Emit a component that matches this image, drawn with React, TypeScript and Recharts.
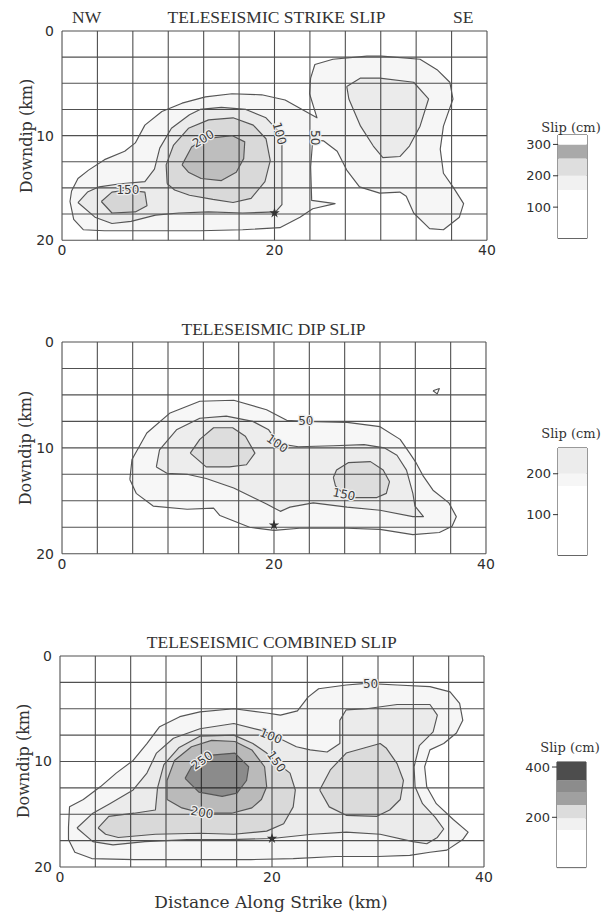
import React from 'react';
import {
  ScatterChart,
  Scatter,
  XAxis,
  YAxis,
  CartesianGrid,
  BarChart,
  Bar,
  ReferenceArea,
  Symbols,
} from 'recharts';

type Pt = [number, number];

// Fault-plane grid (km): 12 columns along strike, 8 rows downdip
const gridX = [0, 3.333, 6.667, 10, 13.333, 16.667, 20, 23.333, 26.667, 30, 33.333, 36.667, 40];
const gridY = [0, 2.5, 5, 7.5, 10, 12.5, 15, 17.5, 20];
const xTickLabels = [0, 20, 40];
const yTickLabels = [0, 10, 20];

// ---- Teleseismic strike slip contours (x along strike km, y downdip km)
const strike50: Pt[] = [
  [0.75, 16.3], [0.9, 15.3], [1.5, 14.1], [2.5, 13.3], [4.0, 12.3], [5.9, 11.5], [6.9, 10.7],
  [7.8, 9.0], [9.4, 7.7], [11.3, 6.9], [13.5, 6.3], [16.0, 6.0], [18.8, 6.1], [21.0, 6.6],
  [22.6, 7.5], [24.0, 8.3], [23.3, 6.0], [23.4, 4.5], [23.8, 3.2], [25.5, 2.7], [28.7, 2.4],
  [30.1, 2.4], [33.7, 2.7], [35.3, 3.7], [36.5, 4.9], [36.8, 6.5], [35.9, 9.1], [35.6, 11.3],
  [35.9, 13.6], [36.8, 14.9], [37.8, 16.5], [37.4, 17.8], [35.9, 19.0], [34.6, 18.9],
  [33.1, 17.4], [32.4, 15.8], [31.8, 15.4], [29.9, 15.5], [28.0, 14.9], [26.8, 13.3],
  [25.9, 11.5], [24.6, 10.5], [23.6, 10.4], [23.4, 13.0], [23.5, 16.2], [25.7, 16.5],
  [23.6, 17.0], [22.4, 17.8], [20.5, 18.8], [17.0, 19.0], [13.0, 19.1], [8.0, 19.1],
  [4.0, 19.1], [2.0, 19.0], [1.1, 18.0], [0.75, 16.3],
];
const strike100: Pt[] = [
  [1.5, 16.4], [2.4, 15.4], [3.5, 14.9], [5.5, 14.6], [7.8, 14.4], [8.7, 13.2], [9.2, 11.2],
  [10.3, 9.3], [12.0, 8.0], [13.0, 7.5], [15.0, 7.3], [17.3, 7.5], [19.2, 8.3], [20.3, 9.5],
  [20.7, 10.8], [20.7, 16.6], [20.1, 17.3], [17.0, 17.4], [13.8, 17.3], [11.0, 17.4],
  [8.8, 17.6], [6.5, 18.2], [4.7, 18.4], [3.1, 17.8], [1.5, 16.4],
];
const strike100East: Pt[] = [
  [26.8, 5.3], [28.1, 4.5], [29.9, 4.5], [33.1, 4.9], [34.5, 6.5], [33.7, 9.1], [32.7, 11.0],
  [31.8, 12.0], [30.2, 12.1], [29.3, 11.0], [28.1, 9.1], [27.0, 6.5], [26.8, 5.3],
];
const strike150West: Pt[] = [
  [3.7, 16.3], [4.7, 15.4], [6.1, 15.2], [7.8, 15.4], [8.0, 16.7], [6.9, 17.3], [4.7, 17.4], [3.7, 16.3],
];
const strike150: Pt[] = [
  [9.9, 14.6], [9.8, 12.8], [10.5, 10.9], [11.9, 9.3], [13.8, 8.5], [16.1, 8.3], [18.0, 9.0],
  [19.2, 10.3], [19.6, 12.4], [19.1, 14.4], [17.8, 16.0], [16.1, 16.4], [14.2, 16.1],
  [12.0, 15.7], [10.6, 15.2], [9.9, 14.6],
];
const strike200: Pt[] = [
  [11.3, 12.8], [12.2, 11.1], [13.5, 10.3], [16.0, 10.0], [17.2, 10.6], [17.1, 12.2],
  [16.4, 13.5], [15.0, 14.3], [13.1, 14.1], [11.9, 13.5], [11.3, 12.8],
];

// ---- Teleseismic dip slip contours
const dip50: Pt[] = [
  [6.4, 13.0], [6.6, 11.1], [8.0, 8.6], [10.2, 6.7], [13.0, 5.6], [16.2, 5.5], [19.3, 6.4],
  [21.2, 7.4], [22.9, 7.5], [26.9, 7.6], [30.0, 8.0], [31.9, 9.2], [32.8, 10.5], [33.4, 11.4],
  [34.1, 12.7], [35.0, 14.0], [36.5, 15.2], [37.2, 16.5], [36.8, 17.4], [35.6, 18.0],
  [33.1, 18.2], [30.0, 17.7], [26.9, 17.6], [22.4, 17.6], [20.0, 17.8], [17.7, 17.5],
  [14.9, 16.4], [14.3, 15.7], [11.8, 15.8], [8.6, 15.5], [7.0, 14.3], [6.4, 13.0],
];
const dip50Spot: Pt[] = [[35.0, 4.6], [35.6, 4.4], [35.4, 4.9], [35.0, 4.6]];
const dip100: Pt[] = [
  [8.9, 11.8], [9.2, 10.2], [10.8, 8.3], [13.0, 7.2], [15.5, 7.0], [18.0, 7.5], [19.5, 8.3],
  [20.4, 9.6], [22.3, 9.9], [25.6, 9.8], [28.5, 9.7], [30.4, 10.0], [31.6, 10.7], [32.5, 12.1],
  [33.1, 14.3], [33.3, 15.5], [34.1, 16.5], [33.1, 16.5], [30.0, 15.9], [26.9, 15.6],
  [23.7, 15.2], [21.5, 15.6], [20.6, 16.0], [19.3, 15.3], [16.2, 13.8], [13.6, 12.9],
  [11.8, 12.5], [9.9, 12.4], [8.9, 11.8],
];
const dip150West: Pt[] = [
  [12.1, 10.5], [13.0, 9.2], [14.3, 8.1], [16.1, 8.1], [17.3, 8.9], [18.2, 10.5], [17.4, 11.6],
  [15.8, 11.8], [13.6, 11.8], [12.1, 10.5],
];
const dip150East: Pt[] = [
  [25.6, 12.8], [25.9, 12.1], [27.0, 11.4], [29.1, 11.3], [30.3, 12.1], [30.9, 13.2],
  [30.6, 14.3], [29.7, 14.7], [27.5, 14.7], [26.6, 14.4], [25.8, 13.6], [25.6, 12.8],
];

// ---- Teleseismic combined slip contours
const comb50: Pt[] = [
  [0.8, 16.2], [0.9, 14.3], [2.2, 13.6], [3.8, 12.4], [5.3, 11.1], [6.9, 9.9], [8.2, 8.3],
  [9.4, 6.7], [11.3, 5.75], [13.2, 5.3], [16.4, 5.0], [19.5, 5.4], [20.8, 5.6], [22.4, 5.2],
  [23.4, 3.9], [24.4, 3.1], [27.0, 2.75], [28.9, 2.6], [31.8, 2.75], [34.9, 2.9], [36.8, 3.4],
  [37.7, 4.5], [38.0, 6.1], [37.4, 7.3], [36.2, 8.3], [34.9, 8.9], [34.4, 10.5], [34.6, 12.4],
  [35.5, 14.0], [37.1, 15.5], [38.5, 16.7], [38.0, 17.4], [36.5, 18.4], [34.9, 18.6],
  [33.0, 18.9], [30.0, 19.0], [26.0, 19.0], [22.0, 19.2], [18.0, 19.3], [13.0, 19.3],
  [7.0, 19.3], [3.0, 19.2], [1.4, 18.6], [0.8, 17.4], [0.8, 16.2],
];
const comb100: Pt[] = [
  [1.6, 16.3], [3.1, 14.9], [4.7, 14.0], [6.9, 12.7], [8.2, 11.1], [9.1, 9.2], [10.7, 7.8],
  [13.2, 6.9], [16.4, 6.4], [19.2, 7.1], [21.1, 8.0], [22.3, 8.6], [23.6, 8.9], [25.2, 9.1],
  [26.4, 8.3], [26.4, 6.1], [27.0, 5.1], [28.9, 5.0], [31.8, 4.6], [34.9, 4.6], [35.6, 5.6],
  [35.2, 7.2], [33.9, 8.5], [33.4, 10.5], [33.5, 12.4], [34.2, 14.0], [35.4, 15.3],
  [36.2, 16.4], [35.6, 17.2], [34.6, 17.8], [33.3, 17.6], [30.2, 16.9], [27.0, 16.7],
  [23.8, 16.9], [20.0, 17.3], [16.0, 17.4], [12.0, 17.4], [8.0, 17.6], [5.0, 17.9],
  [3.1, 17.6], [1.6, 16.3],
];
const comb150: Pt[] = [
  [3.6, 16.3], [4.6, 15.2], [7.0, 14.9], [9.0, 14.6], [9.2, 12.5], [9.8, 10.3], [11.2, 8.7],
  [13.2, 7.6], [16.4, 7.5], [18.2, 8.3], [19.5, 9.2], [20.3, 10.0], [21.7, 11.1], [22.2, 12.7],
  [22.0, 14.3], [21.1, 15.9], [19.5, 16.6], [16.4, 16.9], [13.2, 16.8], [9.0, 16.9],
  [5.5, 17.2], [4.3, 16.9], [3.6, 16.3],
];
const comb150East: Pt[] = [
  [24.5, 12.7], [25.5, 10.8], [27.0, 9.2], [30.2, 8.3], [30.8, 8.75], [31.8, 10.2],
  [32.4, 11.8], [32.1, 13.6], [31.1, 14.6], [29.9, 15.2], [27.0, 15.1], [25.4, 14.3], [24.5, 12.7],
];
const comb200: Pt[] = [
  [10.1, 13.6], [10.1, 11.8], [10.8, 9.9], [12.4, 8.6], [14.3, 8.0], [16.5, 8.1], [18.1, 8.9],
  [19.3, 10.5], [19.5, 12.4], [19.0, 13.6], [18.1, 14.4], [16.2, 14.9], [13.4, 14.9],
  [11.5, 14.4], [10.1, 13.6],
];
const comb250: Pt[] = [
  [11.8, 11.6], [12.4, 10.5], [13.4, 9.9], [14.3, 9.4], [16.5, 9.2], [17.8, 10.5], [17.6, 11.8],
  [16.7, 13.0], [15.3, 13.3], [13.1, 12.9], [11.8, 11.6],
];

// Contour level labels
const strikeTags = [
  { x: 13.3, y: 10.3, text: '200', angle: -30 },
  { x: 20.45, y: 9.8, text: '100', angle: 75 },
  { x: 23.8, y: 10.2, text: '50', angle: 90 },
  { x: 6.2, y: 15.2, text: '150', angle: 0 },
];
const dipTags = [
  { x: 23.0, y: 7.5, text: '50', angle: 0 },
  { x: 20.3, y: 9.6, text: '100', angle: 35 },
  { x: 26.6, y: 14.4, text: '150', angle: 12 },
];
const combTags = [
  { x: 29.3, y: 2.7, text: '50', angle: 0 },
  { x: 19.9, y: 7.6, text: '100', angle: 22 },
  { x: 20.4, y: 10.0, text: '150', angle: 55 },
  { x: 13.4, y: 14.85, text: '200', angle: 10 },
  { x: 13.4, y: 9.9, text: '250', angle: -35 },
];

// Hypocentre
const strikeHypo = { x: 20, y: 17.4 };
const dipHypo = { x: 20, y: 17.3 };
const combHypo = { x: 20, y: 17.3 };

// Slip scale bars: band edges (cm) and grey shades
const strikeBarLevels = [0, 155, 200, 255, 300, 330];
const strikeBarShades = ['#ffffff', '#f1f1f1', '#dedede', '#a9a9a9', '#ffffff'];
const strikeBarTicks = [100, 200, 300];
const dipBarLevels = [0, 170, 200, 263];
const dipBarShades = ['#ffffff', '#f6f6f6', '#ececec'];
const dipBarTicks = [100, 200];
const combBarLevels = [0, 150, 196, 249, 301, 347, 420];
const combBarShades = ['#ffffff', '#f1f1f1', '#dcdcdc', '#a0a0a0', '#8c8c8c', '#4d4d4d'];
const combBarTicks = [200, 400];

const toXY = (pts: Pt[]) => pts.map(([x, y]) => ({ x, y }));

const NoMarker = () => <g />;

const HypoStar = (p: any) => (
  <Symbols type="star" size={34} cx={p.cx} cy={p.cy} fill="#333" />
);

const LevelTag = (p: any) => {
  const { cx, cy, payload } = p;
  return (
    <g transform={`translate(${cx},${cy}) rotate(${payload.angle})`}>
      <text
        textAnchor="middle"
        dominantBaseline="central"
        fontSize={12}
        fontFamily="DejaVu Sans"
        fill="#3c3c3c"
        stroke="#eeeeee"
        strokeWidth={2.5}
        paintOrder="stroke"
      >
        {payload.text}
      </text>
    </g>
  );
};

const tickStyle = { fontSize: 14, fontFamily: 'DejaVu Sans', fill: '#2e2e2e' };

interface Box { left: number; top: number; right: number; bottom: number }
interface Layer { points: Pt[]; shade: number }

function ContourPanel(props: {
  box: Box;
  layers: Layer[];
  tags: { x: number; y: number; text: string; angle: number }[];
  hypo: { x: number; y: number };
}) {
  const { box, layers, tags, hypo } = props;
  const width = box.right + 10;
  const height = box.bottom - box.top + 40;
  return (
    <div style={{ position: 'absolute', left: 0, top: box.top - 10 }}>
      <ScatterChart width={width} height={height} margin={{ top: 10, right: 10, bottom: 0, left: 0 }}>
        <CartesianGrid stroke="#505050" strokeWidth={1.1} />
        <XAxis
          type="number"
          dataKey="x"
          domain={[0, 40]}
          ticks={gridX}
          interval={0}
          allowDataOverflow
          tickLine={false}
          axisLine={false}
          tickSize={5}
          tickMargin={0}
          height={30}
          tick={tickStyle}
          tickFormatter={(v: number) => (xTickLabels.includes(v) ? String(v) : '')}
        />
        <YAxis
          type="number"
          dataKey="y"
          domain={[0, 20]}
          reversed
          ticks={gridY}
          interval={0}
          allowDataOverflow
          tickLine={false}
          axisLine={false}
          tickSize={8}
          tickMargin={0}
          width={box.left}
          tick={tickStyle}
          tickFormatter={(v: number) => (yTickLabels.includes(v) ? String(v) : '')}
        />
        {layers.map((layer, i) => (
          <Scatter
            key={i}
            data={toXY(layer.points)}
            line={{ stroke: '#555', strokeWidth: 1.15, fill: '#000', fillOpacity: layer.shade, strokeLinejoin: 'round' }}
            shape={NoMarker}
            isAnimationActive={false}
          />
        ))}
        <Scatter data={[hypo]} shape={HypoStar} isAnimationActive={false} />
        <Scatter data={tags} shape={LevelTag} isAnimationActive={false} />
      </ScatterChart>
    </div>
  );
}

function SlipBar(props: { box: Box; levels: number[]; shades: string[]; ticks: number[] }) {
  const { box, levels, shades, ticks } = props;
  const max = levels[levels.length - 1];
  const row: Record<string, number | string> = { name: 'slip' };
  shades.forEach((_, i) => {
    row['b' + i] = levels[i + 1] - levels[i];
  });
  const axisW = 58;
  return (
    <div style={{ position: 'absolute', left: box.left - axisW, top: box.top - 10 }}>
      <BarChart
        width={axisW + (box.right - box.left) + 5}
        height={box.bottom - box.top + 15}
        data={[row]}
        margin={{ top: 10, right: 5, bottom: 5, left: 0 }}
        barCategoryGap={0}
      >
        <XAxis dataKey="name" hide />
        <YAxis
          type="number"
          domain={[0, max]}
          ticks={ticks}
          interval={0}
          allowDataOverflow
          width={axisW}
          axisLine={false}
          tickLine={{ stroke: '#333' }}
          tickSize={5}
          tickMargin={2}
          tick={{ fontSize: 13, fontFamily: 'DejaVu Sans', fill: '#2e2e2e' }}
        />
        {shades.map((c, i) => (
          <Bar key={i} dataKey={'b' + i} stackId="slip" fill={c} isAnimationActive={false} />
        ))}
        <ReferenceArea y1={0} y2={max} fill="none" stroke="#333" strokeWidth={1} />
      </BarChart>
    </div>
  );
}

const serif = 'Liberation Serif';
const labelSerif = 'DejaVu Serif';

export default function App() {
  return (
    <div style={{ position: 'absolute', left: 0, top: 0, width: 604, height: 914, background: '#fff' }}>
      <ContourPanel
        box={{ left: 62, top: 31.3, right: 487, bottom: 240.5 }}
        layers={[
          { points: strike50, shade: 0.035 },
          { points: strike100, shade: 0.045 },
          { points: strike100East, shade: 0.045 },
          { points: strike150West, shade: 0.085 },
          { points: strike150, shade: 0.075 },
          { points: strike200, shade: 0.12 },
        ]}
        tags={strikeTags}
        hypo={strikeHypo}
      />
      <ContourPanel
        box={{ left: 62, top: 342.3, right: 486, bottom: 554 }}
        layers={[
          { points: dip50, shade: 0.03 },
          { points: dip50Spot, shade: 0.0 },
          { points: dip100, shade: 0.04 },
          { points: dip150West, shade: 0.065 },
          { points: dip150East, shade: 0.065 },
        ]}
        tags={dipTags}
        hypo={dipHypo}
      />
      <ContourPanel
        box={{ left: 60, top: 656, right: 484, bottom: 867 }}
        layers={[
          { points: comb50, shade: 0.035 },
          { points: comb100, shade: 0.045 },
          { points: comb150, shade: 0.075 },
          { points: comb150East, shade: 0.065 },
          { points: comb200, shade: 0.14 },
          { points: comb250, shade: 0.25 },
        ]}
        tags={combTags}
        hypo={combHypo}
      />

      <SlipBar box={{ left: 558, top: 135, right: 587, bottom: 238.5 }} levels={strikeBarLevels} shades={strikeBarShades} ticks={strikeBarTicks} />
      <SlipBar box={{ left: 558, top: 448, right: 587, bottom: 555.5 }} levels={dipBarLevels} shades={dipBarShades} ticks={dipBarTicks} />
      <SlipBar box={{ left: 557, top: 761.7, right: 586, bottom: 867.3 }} levels={combBarLevels} shades={combBarShades} ticks={combBarTicks} />

      <svg width={604} height={914} style={{ position: 'absolute', left: 0, top: 0, pointerEvents: 'none' }}>
        <g fontFamily={serif} fontSize={17.5} fill="#333">
          <text x={72} y={23.3}>NW</text>
          <text x={276.5} y={23.3} textAnchor="middle">TELESEISMIC STRIKE SLIP</text>
          <text x={453} y={23.3}>SE</text>
          <text x={273.5} y={335} textAnchor="middle">TELESEISMIC DIP SLIP</text>
          <text x={271.7} y={648.3} textAnchor="middle">TELESEISMIC COMBINED SLIP</text>
        </g>
        <g fontFamily={labelSerif} fontSize={16} fill="#333">
          <text transform="translate(26.5,136) rotate(-90)" textAnchor="middle" dominantBaseline="central">Downdip (km)</text>
          <text transform="translate(25,448) rotate(-90)" textAnchor="middle" dominantBaseline="central">Downdip (km)</text>
          <text transform="translate(23,761) rotate(-90)" textAnchor="middle" dominantBaseline="central">Downdip (km)</text>
        </g>
        <text x={271} y={908} textAnchor="middle" fontFamily={labelSerif} fontSize={17} fill="#333">
          Distance Along Strike (km)
        </text>
        <g fontFamily={labelSerif} fontSize={13} fill="#333" textAnchor="middle">
          <text x={571} y={131.7}>Slip (cm)</text>
          <text x={571} y={438}>Slip (cm)</text>
          <text x={570} y={751.7}>Slip (cm)</text>
        </g>
      </svg>
    </div>
  );
}
